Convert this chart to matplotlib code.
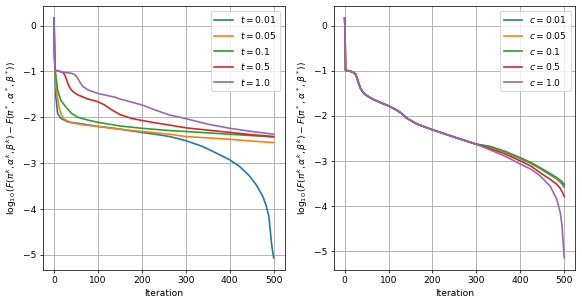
import numpy as np
import matplotlib.pyplot as plt

# ---- left panel: different t ----
it_t001 = [0, 1, 2, 4, 8, 15, 31, 54, 100, 138, 150, 200, 230, 263, 300, 339, 369, 400, 422,
           445, 460, 475, 483, 489, 492, 495, 498, 500]
t001 = [0.17, -0.45, -0.97, -1.55, -1.91, -2.02, -2.10, -2.13, -2.20, -2.24, -2.26, -2.33,
        -2.37, -2.42, -2.51, -2.64, -2.78, -2.93, -3.07, -3.28, -3.47, -3.72, -3.93, -4.16,
        -4.45, -4.74, -4.95, -5.07]

it_t005 = [0, 1, 2, 4, 8, 11, 15, 23, 39, 69, 100, 138, 150, 200, 263, 300, 350, 400,
           450, 500]
t005 = [0.17, -0.6, -0.97, -1.33, -1.58, -1.77, -1.91, -2.04, -2.12, -2.17, -2.20, -2.25,
        -2.26, -2.31, -2.37, -2.42, -2.45, -2.48, -2.52, -2.55]

it_t01 = [0, 1, 2, 3, 8, 15, 23, 39, 54, 77, 100, 138, 150, 200, 263, 300, 350, 400,
          450, 500]
t01 = [0.17, -0.6, -0.97, -1.0, -1.40, -1.62, -1.73, -1.91, -2.00, -2.06, -2.11, -2.17,
       -2.19, -2.24, -2.29, -2.31, -2.34, -2.37, -2.40, -2.43]

it_t05 = [0, 1, 2, 10, 20, 24, 28, 31, 35, 39, 46, 54, 77, 100, 115, 130, 150, 175, 200,
          230, 263, 300, 350, 400, 450, 500]
t05 = [0.17, -0.6, -0.97, -0.99, -1.02, -1.07, -1.16, -1.25, -1.34, -1.40, -1.46, -1.51,
       -1.60, -1.66, -1.73, -1.83, -1.94, -2.02, -2.07, -2.12, -2.17, -2.23, -2.28, -2.33,
       -2.38, -2.42]

it_t1 = [0, 1, 2, 10, 24, 40, 47, 53, 58, 62, 66, 77, 100, 138, 150, 200, 230, 263, 300,
         350, 400, 450, 500]
t1 = [0.17, -0.6, -0.97, -0.99, -1.02, -1.04, -1.07, -1.13, -1.22, -1.28, -1.33, -1.40,
      -1.48, -1.56, -1.60, -1.73, -1.84, -1.95, -2.03, -2.15, -2.24, -2.31, -2.37]

# ---- right panel: different c ----
it_c_head = [0, 1, 2, 5, 10, 20, 25, 28, 32, 36, 42, 47, 55, 66, 80, 100, 118, 130, 141,
             164, 200, 255, 300]
c_head = [0.17, -0.2, -0.99, -1.0, -1.0, -1.04, -1.08, -1.16, -1.28, -1.39, -1.48, -1.53,
          -1.58, -1.64, -1.70, -1.78, -1.87, -1.95, -2.05, -2.18, -2.31, -2.49, -2.63]

it_c_tail = [332, 366, 400, 425, 445, 468, 483, 491, 495, 497, 500]
c001_tail = [-2.69, -2.81, -2.95, -3.06, -3.17, -3.31, -3.40, -3.47, -3.51, -3.54, -3.58]
c005_tail = [-2.69, -2.80, -2.94, -3.05, -3.16, -3.29, -3.39, -3.45, -3.48, -3.50, -3.54]
c01_tail = [-2.68, -2.79, -2.93, -3.04, -3.15, -3.28, -3.37, -3.43, -3.46, -3.48, -3.52]
c05_tail = [-2.73, -2.85, -3.00, -3.12, -3.26, -3.41, -3.52, -3.61, -3.68, -3.72, -3.79]
c1_tail = [-2.76, -2.90, -3.07, -3.19, -3.33, -3.56, -3.85, -4.15, -4.44, -4.74, -5.15]

t_labels = ['$t=0.01$', '$t=0.05$', '$t=0.1$', '$t=0.5$', '$t=1.0$']
c_labels = ['$c=0.01$', '$c=0.05$', '$c=0.1$', '$c=0.5$', '$c=1.0$']

ylab = r"$\log_{10}(F(\pi^k,\alpha^k,\beta^k)-F(\pi^*,\alpha^*,\beta^*))$"

fig, (ax1, ax2) = plt.subplots(1, 2, figsize=(582.2/66, 306.2/66), dpi=66)
fig.subplots_adjust(left=0.074, right=0.988, top=0.980, bottom=0.118, wspace=0.203)

left_data = [(it_t001, t001), (it_t005, t005), (it_t01, t01), (it_t05, t05), (it_t1, t1)]
for (x, y), lab in zip(left_data, t_labels):
    ax1.plot(x, y, label=lab, lw=1.8)

tails = [c001_tail, c005_tail, c01_tail, c05_tail, c1_tail]
for tail, lab in zip(tails, c_labels):
    ax2.plot(it_c_head + it_c_tail, c_head + tail, label=lab, lw=1.8)

for ax in (ax1, ax2):
    ax.set_xlabel("Iteration")
    ax.set_ylabel(ylab)
    ax.set_xticks([0, 100, 200, 300, 400, 500])
    ax.grid(lw=1.0)
    ax.legend(loc='upper right')

plt.savefig("out.png", dpi=66)
